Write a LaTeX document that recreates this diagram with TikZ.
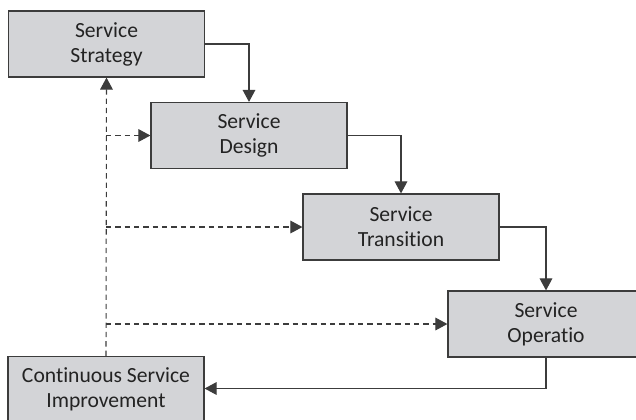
\documentclass[tikz,border=0pt]{standalone}
\usepackage{fontspec}
\setmainfont{Carlito}[Ligatures=NoCommon]
\usepackage{tikz}
\usetikzlibrary{arrows.meta}
\definecolor{boxgray}{RGB}{211,212,215}
\definecolor{edgegray}{RGB}{60,60,60}
\definecolor{textgray}{RGB}{35,35,35}

\begin{document}
\begin{tikzpicture}[x=0.75pt,y=-0.75pt,
        phase/.style={draw=edgegray, fill=boxgray, line width=0.9pt,
            minimum width=147pt, minimum height=49.5pt, inner sep=0pt,
            align=center, text=textgray, font=\fontsize{16.2}{18.75}\selectfont},
        flow/.style={draw=edgegray, line width=0.8pt,
            -{Triangle[length=9pt,width=9.5pt]}},
        back/.style={flow, dash pattern=on 4pt off 3pt}]
        \useasboundingbox (0,0) rectangle (636,419);
        \node[phase] (strat) at (106.5,44) {Service\\Strategy};
        \node[phase] (des) at (249,135.5) {Service\\Design};
        \node[phase] (trans) at (401,227) {Service\\Transition};
        \node[phase] (oper) at (546,324) {Service\\Operatio};
        \node[phase] (csi) at (106,389.5) {Continuous Service\\Improvement};
        \coordinate (b1) at (csi.north |- des.west);
        \coordinate (b2) at (csi.north |- trans.west);
        \coordinate (b3) at (csi.north |- oper.west);
        \draw[flow] (strat.east) -| (des.north);
        \draw[flow] (des.east) -| (trans.north);
        \draw[flow] (trans.east) -| (oper.north);
        \draw[flow] (oper.south) |- ([yshift=0.75pt]csi.east);
        \draw[back] (csi.north) -- (strat.south);
        \draw[back] (b1) -- (des.west);
        \draw[back] (b2) -- (trans.west);
        \draw[back] (b3) -- (oper.west);
    \end{tikzpicture}
\end{document}
